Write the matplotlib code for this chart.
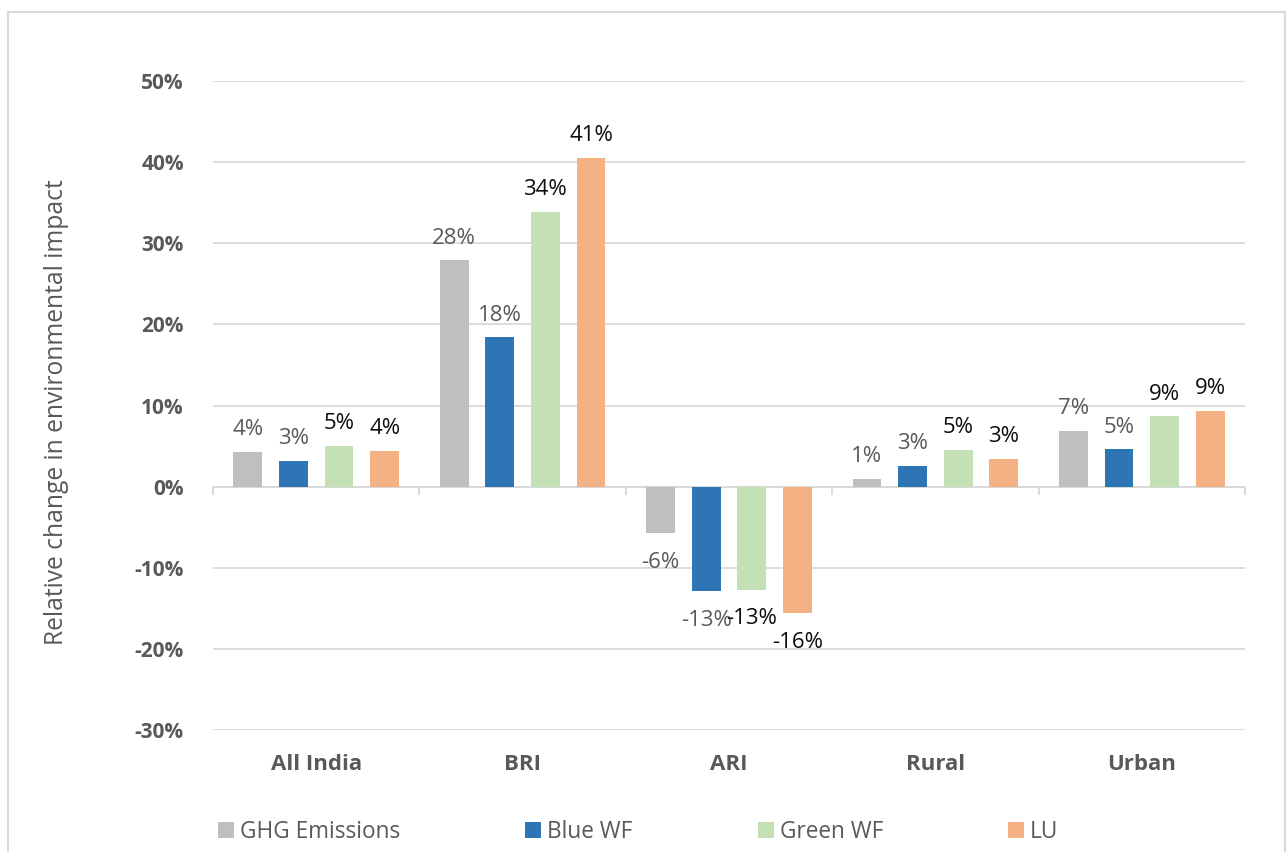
import matplotlib
matplotlib.use("Agg")
import matplotlib.pyplot as plt
from matplotlib.patches import Rectangle
from matplotlib.transforms import blended_transform_factory
import numpy as np

# Relative change in environmental impact by region/sector
categories = ["All India", "BRI", "ARI", "Rural", "Urban"]
series_names = ["GHG Emissions", "Blue WF", "Green WF", "LU"]
ghg = [0.043, 0.279, -0.057, 0.0098, 0.069]
blue_wf = [0.032, 0.184, -0.129, 0.026, 0.046]
green_wf = [0.0505, 0.3385, -0.127, 0.0455, 0.0866]
land_use = [0.0443, 0.4055, -0.156, 0.0345, 0.0936]
y_ticks = [-0.3, -0.2, -0.1, 0.0, 0.1, 0.2, 0.3, 0.4, 0.5]

series_values = [ghg, blue_wf, green_wf, land_use]
colors = ["#bfbfbf", "#2e75b6", "#c5e0b4", "#f4b183"]
label_colors = ["#595959", "#595959", "#0d0d0d", "#0d0d0d"]
text_gray = "#595959"
grid_gray = "#d9d9d9"

plt.rcParams["font.family"] = ["Open Sans", "DejaVu Sans"]

W, H = 1288, 852
fig = plt.figure(figsize=(W / 100, H / 100), dpi=100)
ax = fig.add_axes([213 / W, 1 - 730 / H, (1245 - 213) / W, (730 - 81) / H])

# outer chart border
fig.patches.append(Rectangle((8 / W, -0.05), (1285 - 8) / W, (1 - 12 / H) + 0.05,
                             transform=fig.transFigure, fill=False,
                             edgecolor=grid_gray, linewidth=1.5))

x = np.arange(len(categories))
step = 0.221
width = 0.14
for i, (vals, name) in enumerate(zip(series_values, series_names)):
    pos = x + (i - 1.5) * step
    ax.bar(pos, vals, width=width, color=colors[i], label=name, zorder=3)
    for xp, v in zip(pos, vals):
        txt = f"{round(v * 100):.0f}%"
        if v >= 0:
            ax.annotate(txt, (xp, v), xytext=(0, 12), textcoords="offset points",
                        ha="center", va="baseline", fontsize=16,
                        color=label_colors[i], zorder=4)
        else:
            ax.annotate(txt, (xp, v), xytext=(0, -13.5), textcoords="offset points",
                        ha="center", va="top", fontsize=16,
                        color=label_colors[i], zorder=4)

ax.set_xlim(-0.5, len(categories) - 0.5)
ax.set_ylim(-0.3, 0.5)
ax.set_yticks(y_ticks)
ax.set_yticklabels([f"{round(t * 100):.0f}%" for t in y_ticks],
                   fontsize=15, fontweight="bold", color=text_gray)
ax.tick_params(axis="y", length=0, pad=21)
ax.yaxis.grid(True, color=grid_gray, linewidth=1.3, zorder=0)
ax.set_axisbelow(True)

for s in ["top", "right", "left"]:
    ax.spines[s].set_visible(False)
ax.spines["bottom"].set_position(("data", 0))
ax.spines["bottom"].set_color(grid_gray)
ax.spines["bottom"].set_linewidth(1.3)
ax.spines["bottom"].set_zorder(2)

# category boundary ticks on the zero line
ax.set_xticks(np.arange(-0.5, len(categories), 1.0))
ax.set_xticklabels([])
ax.tick_params(axis="x", direction="out", length=6, width=1.3, color=grid_gray)

trans = blended_transform_factory(ax.transData, fig.transFigure)
for xi, c in zip(x, categories):
    ax.text(xi, 1 - 765 / H, c, transform=trans, ha="center", va="center",
            fontsize=16, fontweight="bold", color=text_gray)

fig.text(57 / W, 1 - 412 / H, "Relative change in environmental impact",
         rotation=90, ha="center", va="center", fontsize=17.7, color=text_gray)

fs_leg = 16.3
px = fs_leg * 100 / 72
leg = fig.legend(loc="center left", bbox_to_anchor=(218 / W, 1 - 832 / H),
                 ncol=4, frameon=False, fontsize=fs_leg, borderpad=0,
                 borderaxespad=0, handlelength=16 / px, handleheight=16 / px,
                 handletextpad=6 / px, columnspacing=125 / px)
for t in leg.get_texts():
    t.set_color(text_gray)

fig.savefig("out.png", dpi=100)
